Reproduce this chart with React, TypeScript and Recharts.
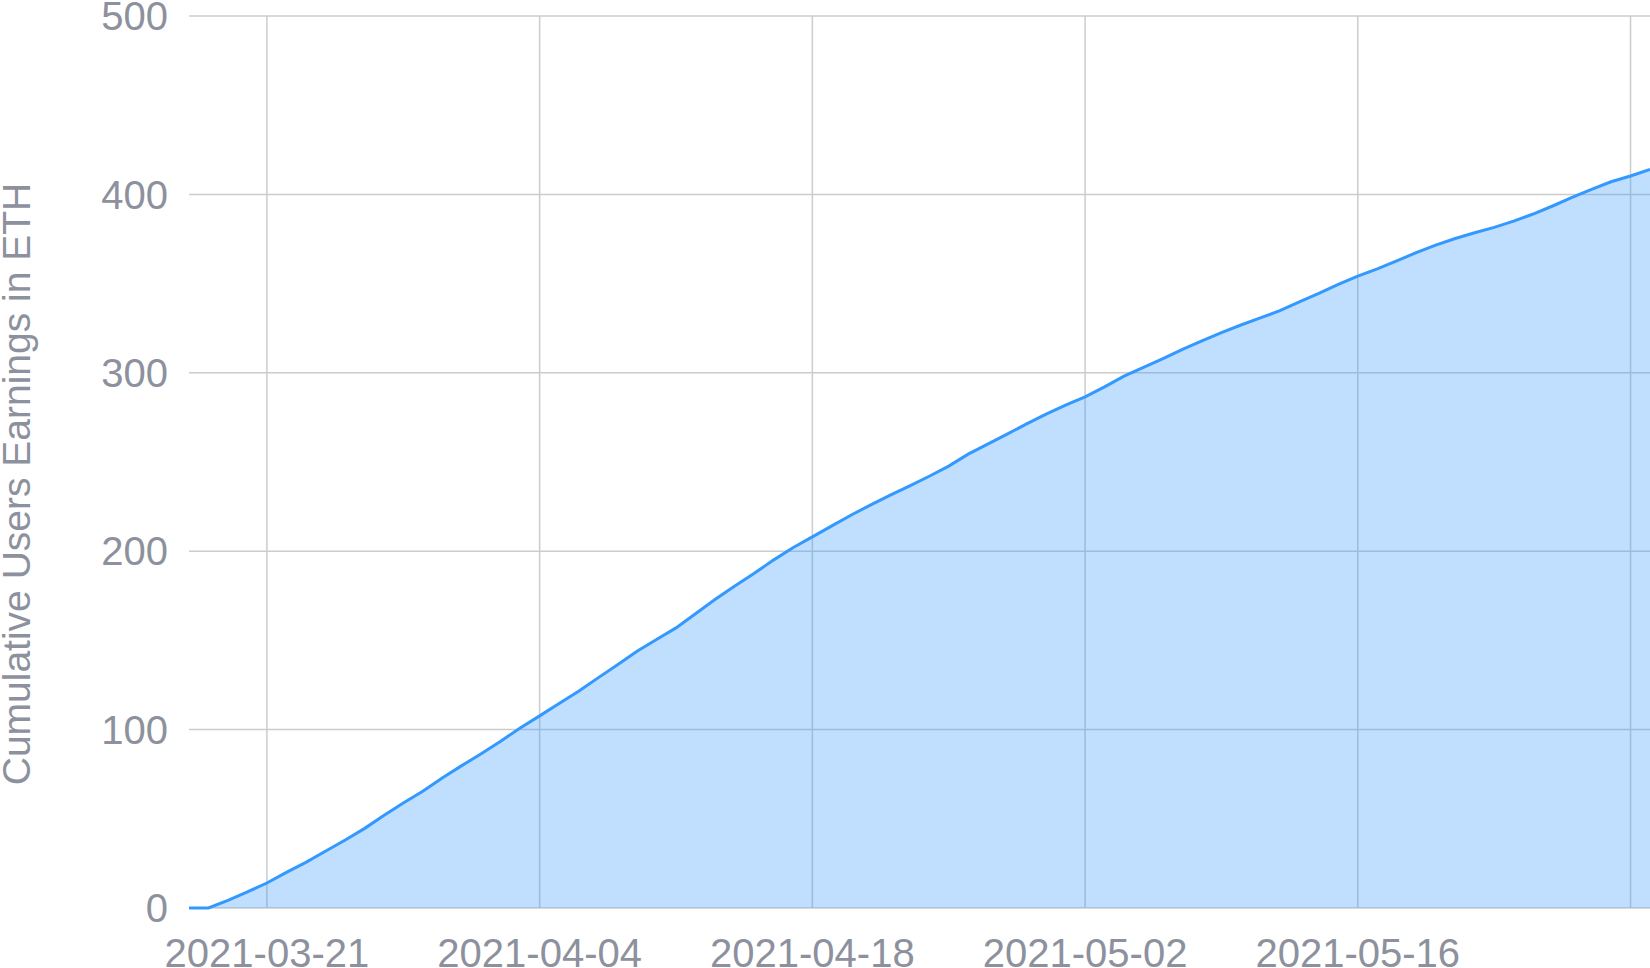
import { AreaChart, Area, XAxis, YAxis, CartesianGrid, Label } from 'recharts'

// one point per day, 2021-03-17 .. 2021-05-31
const dates = [
  '2021-03-17', '2021-03-18', '2021-03-19', '2021-03-20', '2021-03-21', '2021-03-22', '2021-03-23', '2021-03-24',
  '2021-03-25', '2021-03-26', '2021-03-27', '2021-03-28', '2021-03-29', '2021-03-30', '2021-03-31', '2021-04-01',
  '2021-04-02', '2021-04-03', '2021-04-04', '2021-04-05', '2021-04-06', '2021-04-07', '2021-04-08', '2021-04-09',
  '2021-04-10', '2021-04-11', '2021-04-12', '2021-04-13', '2021-04-14', '2021-04-15', '2021-04-16', '2021-04-17',
  '2021-04-18', '2021-04-19', '2021-04-20', '2021-04-21', '2021-04-22', '2021-04-23', '2021-04-24', '2021-04-25',
  '2021-04-26', '2021-04-27', '2021-04-28', '2021-04-29', '2021-04-30', '2021-05-01', '2021-05-02', '2021-05-03',
  '2021-05-04', '2021-05-05', '2021-05-06', '2021-05-07', '2021-05-08', '2021-05-09', '2021-05-10', '2021-05-11',
  '2021-05-12', '2021-05-13', '2021-05-14', '2021-05-15', '2021-05-16', '2021-05-17', '2021-05-18', '2021-05-19',
  '2021-05-20', '2021-05-21', '2021-05-22', '2021-05-23', '2021-05-24', '2021-05-25', '2021-05-26', '2021-05-27',
  '2021-05-28', '2021-05-29', '2021-05-30', '2021-05-31',
]

const earnings = [
  0, 0, 4.3, 9, 14, 20, 25.6, 31.8,
  38, 44.5, 51.8, 58.9, 65.4, 72.9, 79.8, 86.5,
  93.5, 100.9, 107.7, 114.6, 121.5, 129, 136.4, 143.9,
  150.5, 157, 164.9, 172.9, 180.4, 187.5, 195, 201.9,
  208, 214.2, 220.3, 226, 231.4, 236.6, 242, 247.7,
  254.4, 260, 265.6, 271.4, 276.8, 281.9, 286.5, 292.1,
  298.1, 303, 308, 313.1, 317.9, 322.5, 326.8, 330.8,
  334.8, 339.8, 344.5, 349.5, 354.2, 358.3, 362.8, 367.3,
  371.6, 375.3, 378.5, 381.5, 385, 389, 393.5, 398.3,
  402.8, 407.1, 410.3, 414,
]

const xTicks = ['2021-03-21', '2021-04-04', '2021-04-18', '2021-05-02', '2021-05-16', '2021-05-30']
const yTicks = [0, 100, 200, 300, 400, 500]
const hiddenLabels = ['2021-05-30']

const data = earnings.map((v, i) => ({ day: i, value: v }))
const xTickIdx = xTicks.map((d) => dates.indexOf(d))

const font = '"Liberation Sans", Arial, Helvetica, sans-serif'
const grey = '#8c919d'

function YTitle() {
  return (
    <text
      x={30}
      y={484}
      transform="rotate(-90 30 484)"
      textAnchor="middle"
      fontFamily={font}
      fontSize={39}
      fill={grey}
    >
      Cumulative Users Earnings in ETH
    </text>
  )
}

export default function App() {
  return (
    <div style={{ position: 'absolute', left: 0, top: 0, background: '#fff' }}>
      <AreaChart width={1650} height={968} data={data} margin={{ top: 16, right: 0, bottom: 0, left: 0 }}>
        {/* syncWithTicks: grid only at the ticks, no extra line on the plot edges */}
        <CartesianGrid stroke="#cccccc" strokeWidth={1.5} syncWithTicks />
        <XAxis
          dataKey="day"
          type="number"
          domain={[0, dates.length - 1]}
          ticks={xTickIdx}
          interval={0}
          height={60}
          axisLine={false}
          tickLine={false}
          tickSize={0}
          tickMargin={31}
          tick={{ fontSize: 40, fontFamily: font, fill: grey }}
          tickFormatter={(i: number) => (hiddenLabels.includes(dates[i]) ? '' : dates[i])}
        />
        <YAxis
          domain={[0, 500]}
          ticks={yTicks}
          interval={0}
          width={189}
          axisLine={false}
          tickLine={false}
          tickSize={0}
          tickMargin={21}
          tick={{ fontSize: 40, fontFamily: font, fill: grey }}
        >
          <Label content={YTitle} />
        </YAxis>
        <Area
          type="linear"
          dataKey="value"
          stroke="#3399ff"
          strokeWidth={3}
          fill="#3399ff"
          fillOpacity={0.31}
          isAnimationActive={false}
          dot={false}
          activeDot={false}
        />
      </AreaChart>
    </div>
  )
}
